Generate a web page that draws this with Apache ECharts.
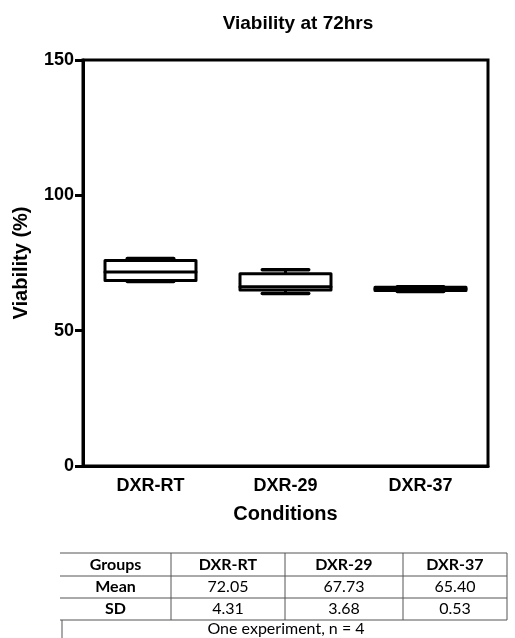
<!DOCTYPE html>
<html>
<head>
<meta charset="utf-8">
<script src="https://cdn.jsdelivr.net/npm/echarts@6/dist/echarts.min.js"></script>
<style>
html,body{margin:0;padding:0;background:#fff;}
#chart{width:515px;height:638px;}
</style>
</head>
<body>
<div id="chart"></div>
<script>
// ---- data ----
const categories = ['DXR-RT', 'DXR-29', 'DXR-37'];
// [min, Q1, median, Q3, max] per group
const statsRT = [68.2, 68.5, 71.7, 75.9, 76.7];
const stats29 = [63.7, 65.0, 66.2, 71.0, 72.5];
const stats37 = [64.5, 64.8, 65.4, 66.0, 66.2];
const yTicks = [0, 50, 100, 150];
const tableHeader = ['Groups', 'DXR-RT', 'DXR-29', 'DXR-37'];
const means = ['72.05', '67.73', '65.40'];
const sds = ['4.31', '3.68', '0.53'];
const footnote = 'One experiment, n = 4';

const boxData = [statsRT, stats29, stats37].map((s, i) => [i].concat(s));

const chart = echarts.init(document.getElementById('chart'), null, {renderer: 'canvas'});

function renderBox(params, api) {
  const x = api.value(0);
  const band = api.size([1, 0])[0];
  const half = band * 0.337;
  const capHalf = band * 0.172;
  const pMin = api.coord([x, api.value(1)]);
  const pQ1 = api.coord([x, api.value(2)]);
  const pMed = api.coord([x, api.value(3)]);
  const pQ3 = api.coord([x, api.value(4)]);
  const pMax = api.coord([x, api.value(5)]);
  const cx = pMed[0];
  const lineStyle = {stroke: '#000', lineWidth: 3, lineCap: 'round'};
  const capStyle = {stroke: '#000', lineWidth: 3.5, lineCap: 'round'};
  return {
    type: 'group',
    children: [
      {type: 'line', shape: {x1: cx, y1: pMax[1], x2: cx, y2: pQ3[1]}, style: lineStyle},
      {type: 'line', shape: {x1: cx, y1: pMin[1], x2: cx, y2: pQ1[1]}, style: lineStyle},
      {type: 'line', shape: {x1: cx - capHalf, y1: pMax[1], x2: cx + capHalf, y2: pMax[1]}, style: capStyle},
      {type: 'line', shape: {x1: cx - capHalf, y1: pMin[1], x2: cx + capHalf, y2: pMin[1]}, style: capStyle},
      {type: 'rect', shape: {x: cx - half, y: pQ3[1], width: half * 2, height: pQ1[1] - pQ3[1]},
        style: {fill: '#fff', stroke: '#000', lineWidth: 3, lineJoin: 'round'}},
      {type: 'line', shape: {x1: cx - half, y1: pMed[1], x2: cx + half, y2: pMed[1]}, style: lineStyle}
    ]
  };
}

// ---- table graphics ----
const tblLeft = 60, tblRight = 507;
const rowLines = [553, 576, 598, 620];
const colX = [60, 171, 285, 403, 507];
const rowCenters = [565, 587, 609, 629];
const tblFont = 'Lato, "Open Sans", sans-serif';
const lineCol = '#555';
const graphics = [];
rowLines.forEach(y => {
  graphics.push({type: 'line', shape: {x1: tblLeft, y1: y, x2: tblRight, y2: y}, style: {stroke: lineCol, lineWidth: 1}});
});
[colX[1], colX[2], colX[3], colX[4]].forEach(x => {
  graphics.push({type: 'line', shape: {x1: x, y1: rowLines[0], x2: x, y2: rowLines[3]}, style: {stroke: lineCol, lineWidth: 1}});
});
graphics.push({type: 'line', shape: {x1: 62, y1: rowLines[3], x2: 62, y2: 638}, style: {stroke: lineCol, lineWidth: 1}});
function cellText(txt, col, row, bold) {
  graphics.push({
    type: 'text',
    x: (colX[col] + colX[col + 1]) / 2,
    y: rowCenters[row],
    style: {text: txt, fill: '#000', font: (bold ? 'bold ' : '') + '16px ' + tblFont, textAlign: 'center', textVerticalAlign: 'middle'}
  });
}
tableHeader.forEach((t, i) => cellText(t, i, 0, true));
cellText('Mean', 0, 1, true);
means.forEach((t, i) => cellText(t, i + 1, 1, false));
cellText('SD', 0, 2, true);
sds.forEach((t, i) => cellText(t, i + 1, 2, false));
graphics.push({
  type: 'text', x: 286, y: rowCenters[3],
  style: {text: footnote, fill: '#000', font: '16px ' + tblFont, textAlign: 'center', textVerticalAlign: 'middle'}
});

const boldFont = '"Liberation Sans", Arial, sans-serif';

chart.setOption({
  animation: false,
  backgroundColor: '#fff',
  title: {
    text: 'Viability at 72hrs',
    left: 293, top: 9, textAlign: 'center',
    textStyle: {fontFamily: boldFont, fontWeight: 'bold', fontSize: 19, color: '#000'}
  },
  grid: {left: 83, right: 27, top: 60, bottom: 172, show: true, borderColor: '#000', borderWidth: 3, backgroundColor: 'transparent'},
  xAxis: {
    type: 'category',
    data: categories,
    boundaryGap: true,
    name: 'Conditions',
    nameLocation: 'middle',
    nameGap: 38,
    nameTextStyle: {fontFamily: boldFont, fontWeight: 'bold', fontSize: 20, color: '#000'},
    axisLine: {lineStyle: {color: '#000', width: 3}},
    axisTick: {alignWithLabel: true, length: 8, lineStyle: {color: '#000', width: 3}},
    axisLabel: {margin: 11, fontFamily: boldFont, fontWeight: 'bold', fontSize: 18, color: '#000'},
    splitLine: {show: false}
  },
  yAxis: {
    type: 'value',
    min: yTicks[0], max: yTicks[yTicks.length - 1], interval: 50,
    name: 'Viability (%)',
    nameLocation: 'middle',
    nameGap: 52,
    nameRotate: 90,
    nameTextStyle: {fontFamily: boldFont, fontWeight: 'bold', fontSize: 20, color: '#000'},
    axisLine: {show: true, lineStyle: {color: '#000', width: 3}},
    axisTick: {show: true, length: 8, lineStyle: {color: '#000', width: 3}},
    axisLabel: {margin: 9, fontFamily: boldFont, fontWeight: 'bold', fontSize: 18, color: '#000'},
    splitLine: {show: false}
  },
  series: [{
    type: 'custom',
    renderItem: renderBox,
    encode: {x: 0, y: [1, 2, 3, 4, 5]},
    data: boxData,
    z: 5
  }],
  graphic: graphics
});
</script>
</body>
</html>
